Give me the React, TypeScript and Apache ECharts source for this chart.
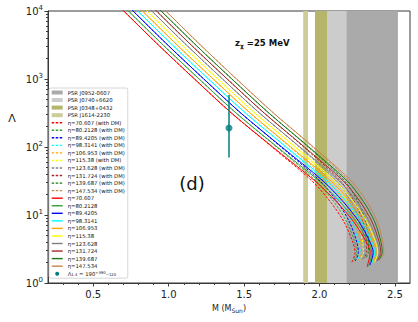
import React, { useEffect, useRef } from 'react';
import * as echarts from 'echarts';

// ---------------- data ----------------
const etaLabels = ['70.607', '80.2128', '89.4205', '98.3141', '106.953', '115.38', '123.628', '131.724', '139.687', '147.534'];

// Λ levels shared by the sampled points of every curve (last point of each curve has its own Λ)
const lambdaLevels = [12589, 10000, 3162, 1000, 316.2, 100, 31.62, 15.85, 7.943, 3.981, 2.818];

// M (M_sun) of the curves "with DM" (dashed) at the Λ levels above, plus end point
const massWithDM = [
  [0.656, 0.702, 0.932, 1.171, 1.416, 1.685, 1.950, 2.070, 2.162, 2.221, 2.236, 2.215],
  [0.687, 0.733, 0.963, 1.202, 1.447, 1.715, 1.977, 2.093, 2.180, 2.234, 2.247, 2.226],
  [0.718, 0.764, 0.994, 1.233, 1.478, 1.745, 2.004, 2.116, 2.198, 2.247, 2.258, 2.237],
  [0.749, 0.795, 1.025, 1.264, 1.509, 1.775, 2.031, 2.139, 2.216, 2.260, 2.269, 2.248],
  [0.780, 0.826, 1.056, 1.295, 1.540, 1.805, 2.058, 2.162, 2.234, 2.273, 2.280, 2.259],
  [0.811, 0.857, 1.087, 1.326, 1.571, 1.835, 2.085, 2.185, 2.252, 2.286, 2.291, 2.270],
  [0.842, 0.888, 1.118, 1.357, 1.602, 1.865, 2.112, 2.208, 2.270, 2.299, 2.302, 2.281],
  [0.873, 0.919, 1.149, 1.388, 1.633, 1.895, 2.139, 2.231, 2.288, 2.312, 2.313, 2.292],
  [0.904, 0.950, 1.180, 1.419, 1.664, 1.925, 2.166, 2.254, 2.306, 2.325, 2.324, 2.303],
  [0.935, 0.981, 1.211, 1.450, 1.695, 1.955, 2.193, 2.277, 2.324, 2.338, 2.335, 2.314],
];
const endLambdaWithDM = [2.02, 2.05, 2.1, 2.12, 2.15, 2.21, 2.23, 2.3, 2.31, 2.38];

// M (M_sun) of the curves without DM (solid)
const massNoDM = [
  [0.656, 0.702, 0.932, 1.171, 1.416, 1.690, 1.970, 2.110, 2.227, 2.311, 2.336, 2.315],
  [0.687, 0.733, 0.963, 1.202, 1.447, 1.720, 1.997, 2.133, 2.244, 2.323, 2.346, 2.325],
  [0.718, 0.764, 0.994, 1.233, 1.478, 1.750, 2.024, 2.155, 2.262, 2.335, 2.356, 2.335],
  [0.749, 0.795, 1.025, 1.264, 1.509, 1.780, 2.050, 2.178, 2.279, 2.347, 2.366, 2.345],
  [0.780, 0.826, 1.056, 1.295, 1.540, 1.810, 2.077, 2.200, 2.296, 2.359, 2.376, 2.355],
  [0.811, 0.857, 1.087, 1.326, 1.571, 1.840, 2.104, 2.223, 2.314, 2.372, 2.386, 2.365],
  [0.842, 0.888, 1.118, 1.357, 1.602, 1.870, 2.131, 2.246, 2.331, 2.384, 2.396, 2.375],
  [0.873, 0.919, 1.149, 1.388, 1.633, 1.900, 2.158, 2.268, 2.348, 2.396, 2.406, 2.385],
  [0.904, 0.950, 1.180, 1.419, 1.664, 1.930, 2.184, 2.291, 2.366, 2.408, 2.416, 2.395],
  [0.935, 0.981, 1.211, 1.450, 1.695, 1.960, 2.211, 2.313, 2.383, 2.420, 2.426, 2.405],
];
const endLambdaNoDM = [1.72, 1.76, 1.83, 1.87, 1.95, 2.0, 2.05, 2.13, 2.17, 2.25];

const pulsarNames = ['PSR J0952-0607', 'PSR J0740+6620', 'PSR J0348+0432', 'PSR J1614-2230'];
const pulsarMassRanges = [
  [2.18, 2.52],
  [2.05, 2.24],
  [1.97, 2.05],
  [1.892, 1.924],
];

const lambda14Mass = 1.4;
const lambda14 = 190;
const lambda14Lower = 70;
const lambda14Upper = 580;

const xMajorTicks = [0.5, 1.0, 1.5, 2.0, 2.5];
const xMinorTicks = [0.3, 0.4, 0.6, 0.7, 0.8, 0.9, 1.1, 1.2, 1.3, 1.4, 1.6, 1.7, 1.8, 1.9, 2.1, 2.2, 2.3, 2.4];
const yMajorTicks = [1, 10, 100, 1000, 10000];
const yMinorTicks = [2, 3, 4, 5, 6, 7, 8, 9, 20, 30, 40, 50, 60, 70, 80, 90, 200, 300, 400, 500, 600, 700, 800, 900, 2000, 3000, 4000, 5000, 6000, 7000, 8000, 9000];

// ---------------- styles ----------------
const curveColors = ['#ff0000', '#35a035', '#0000ff', '#00ffff', '#ffa500', '#ffff00', '#808080', '#a52a2a', '#1a7a1a', '#c8884a'];
const bandColors = ['#aaaaaa', '#cccccc', '#b5b56b', '#cdcd9a'];
const teal = '#008080';
const FONT = 'DejaVu Sans';
const AXIS = '#3a3a3a';

function buildCurve(masses: number[], endLambda: number) {
  return masses.map((m, i) => [m, i < lambdaLevels.length ? lambdaLevels[i] : endLambda]);
}

export default function App() {
  const ref = useRef<HTMLDivElement>(null);

  useEffect(() => {
    document.body.style.margin = '0';
    const chart = echarts.init(ref.current!, null, { renderer: 'svg' });

    const series: any[] = [];
    // bands: J0740 below J0952
    [1, 0, 2, 3].forEach((i) => {
      series.push({
        name: pulsarNames[i],
        type: 'custom',
        silent: true,
        z: 1,
        itemStyle: { color: bandColors[i] },
        encode: { x: [0, 1], y: [2, 3] },
        data: [[pulsarMassRanges[i][0], pulsarMassRanges[i][1], 1, 10000]],
        renderItem: (params: any, api: any) => {
          const p0 = api.coord([api.value(0), 10000]);
          const p1 = api.coord([api.value(1), 1]);
          return {
            type: 'rect',
            shape: { x: p0[0], y: p0[1], width: p1[0] - p0[0], height: p1[1] - p0[1] },
            style: { fill: bandColors[i] },
          };
        },
      });
    });

    etaLabels.forEach((eta, k) => {
      series.push({
        name: `η=${eta} (with DM)`,
        type: 'line',
        data: buildCurve(massWithDM[k], endLambdaWithDM[k]),
        symbol: 'none',
        smooth: 0.3,
        z: 3,
        itemStyle: { color: curveColors[k] },
        lineStyle: { color: curveColors[k], width: 1, type: [2.5, 1.5] },
      });
    });
    etaLabels.forEach((eta, k) => {
      series.push({
        name: `η=${eta}`,
        type: 'line',
        data: buildCurve(massNoDM[k], endLambdaNoDM[k]),
        symbol: 'none',
        smooth: 0.3,
        z: 3,
        itemStyle: { color: curveColors[k] },
        lineStyle: { color: curveColors[k], width: 1 },
      });
    });

    series.push({
      name: 'errbar',
      type: 'line',
      data: [[lambda14Mass, lambda14Lower], [lambda14Mass, lambda14Upper]],
      symbol: 'none',
      z: 5,
      lineStyle: { color: teal, width: 1.5 },
    });
    series.push({
      name: 'Λ1.4',
      type: 'scatter',
      data: [[lambda14Mass, lambda14]],
      symbolSize: 7,
      z: 6,
      itemStyle: { color: teal },
    });

    const legendData: any[] = [
      ...pulsarNames.map((n) => ({ name: n, icon: 'rect', itemStyle: { opacity: 1 } })),
      ...etaLabels.map((e) => ({ name: `η=${e} (with DM)` })),
      ...etaLabels.map((e) => ({ name: `η=${e}` })),
      { name: 'Λ1.4', icon: 'circle', itemStyle: { opacity: 1 } },
    ];

    chart.setOption({
      animation: false,
      grid: {
        left: 48, right: 8, top: 11, bottom: 39,
        show: true, borderColor: AXIS, borderWidth: 1, backgroundColor: 'transparent',
      },
      legend: {
        data: legendData,
        orient: 'vertical',
        left: 49,
        top: 88,
        selectedMode: false,
        backgroundColor: '#ffffff',
        borderColor: '#cccccc',
        borderWidth: 0.8,
        borderRadius: 2,
        padding: [1.5, 3, 1.5, 2],
        itemWidth: 11,
        itemHeight: 4,
        itemGap: 1.55,
        itemStyle: { opacity: 0 },
        lineStyle: { width: 1.4 },
        textStyle: {
          fontSize: 5.3,
          lineHeight: 6,
          fontFamily: FONT,
          color: '#111',
          rich: {
            t: { fontSize: 5.3, fontFamily: FONT, color: '#111', lineHeight: 6 },
            s: { fontSize: 3.8, fontFamily: FONT, color: '#111', lineHeight: 6, verticalAlign: 'bottom' },
            u: { fontSize: 3.8, fontFamily: FONT, color: '#111', lineHeight: 6, verticalAlign: 'top' },
          },
        },
        formatter: (name: string) =>
          name === 'Λ1.4' ? '{t|Λ}{s|1.4}{t| = 190}{u|+390}{s|−120}' : name,
      },
      xAxis: [
        {
          type: 'value', min: 0.2, max: 2.6,
          axisLine: { show: true, lineStyle: { color: AXIS, width: 1 } },
          axisTick: { show: true, customValues: xMajorTicks, length: 3.5, lineStyle: { color: AXIS } },
          axisLabel: {
            customValues: xMajorTicks, margin: 6, fontSize: 10, fontFamily: FONT, color: '#222',
            formatter: (v: number) => v.toFixed(1),
          },
          splitLine: { show: false },
        },
        {
          type: 'value', min: 0.2, max: 2.6, position: 'bottom', offset: 0,
          axisLine: { show: false },
          axisTick: { show: true, customValues: xMinorTicks, length: 2, lineStyle: { color: AXIS } },
          axisLabel: { show: false },
          splitLine: { show: false },
        },
      ],
      yAxis: [
        {
          type: 'log', logBase: 10, min: 1, max: 10000,
          axisLine: { show: true, lineStyle: { color: AXIS, width: 1 } },
          axisTick: { show: true, customValues: yMajorTicks, length: 3.5, lineStyle: { color: AXIS } },
          axisLabel: {
            customValues: yMajorTicks, margin: 5, fontFamily: FONT, color: '#222',
            formatter: (v: number) => `{b|10}{e|${Math.round(Math.log10(v))}}`,
            rich: {
              b: { fontSize: 10, fontFamily: FONT, color: '#222', lineHeight: 14 },
              e: { fontSize: 7, fontFamily: FONT, color: '#222', lineHeight: 6, verticalAlign: 'top' },
            },
          },
          splitLine: { show: false },
        },
        {
          type: 'log', logBase: 10, min: 1, max: 10000, position: 'left', offset: 0,
          axisLine: { show: false },
          axisTick: { show: true, customValues: yMinorTicks, length: 2, lineStyle: { color: AXIS } },
          axisLabel: { show: false },
          splitLine: { show: false },
        },
      ],
      graphic: [
        {
          type: 'text', x: 12, y: 118, silent: true,
          style: { text: 'Λ', fontSize: 11, fontFamily: FONT, fill: '#222', align: 'center', verticalAlign: 'middle' },
        },
        {
          type: 'text', x: 229, y: 308, silent: true,
          style: {
            text: '{a|M (M}{s|Sun}{a|)}', align: 'center', verticalAlign: 'middle',
            rich: {
              a: { fontSize: 8, fontFamily: FONT, fill: '#222', lineHeight: 11 },
              s: { fontSize: 6, fontFamily: FONT, fill: '#222', lineHeight: 7, verticalAlign: 'bottom' },
            },
          },
        },
        {
          type: 'text', x: 235, y: 43, silent: true,
          style: {
            text: '{b|z}{s|χ}{b| =25 MeV}', align: 'left', verticalAlign: 'middle',
            rich: {
              b: { fontSize: 8.5, fontWeight: 'bold', fontFamily: FONT, fill: '#111', lineHeight: 11 },
              s: { fontSize: 6, fontWeight: 'bold', fontFamily: FONT, fill: '#111', lineHeight: 7, verticalAlign: 'bottom' },
            },
          },
        },
        {
          type: 'text', x: 192, y: 183, silent: true,
          style: { text: '(d)', fontSize: 18, fontFamily: FONT, fill: '#111', align: 'center', verticalAlign: 'middle' },
        },
      ],
      series,
    });

    return () => chart.dispose();
  }, []);

  return (
    <div
      ref={ref}
      style={{ position: 'absolute', left: 0, top: 0, width: 418, height: 322, background: '#fff' }}
    />
  );
}
